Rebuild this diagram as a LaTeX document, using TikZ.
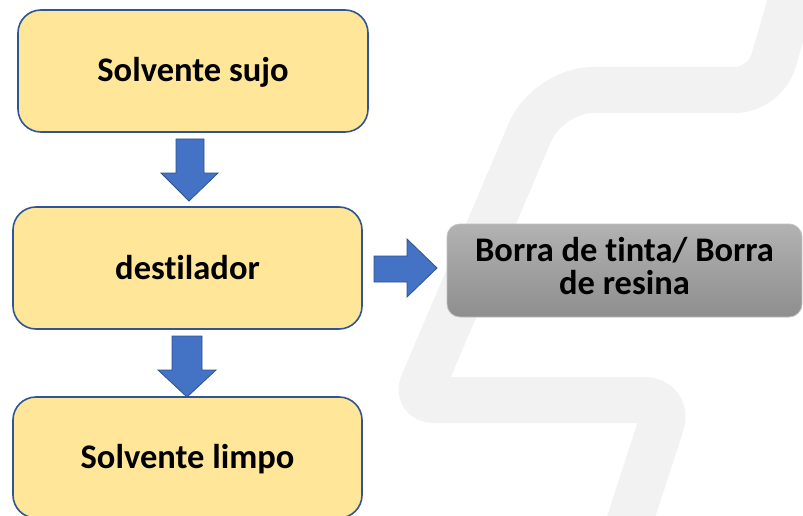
\documentclass[tikz,border=0pt]{standalone}
\usepackage{fontspec}
\setmainfont[Ligatures={NoCommon}]{Carlito}
\usetikzlibrary{positioning}
\definecolor{boxfill}{HTML}{FFE699}
\definecolor{boxline}{HTML}{2F5597}
\definecolor{arrfill}{HTML}{4472C4}
\definecolor{arrline}{HTML}{2F528F}
\definecolor{wmark}{HTML}{F2F2F2}
\definecolor{graytop}{HTML}{B2B2B2}
\definecolor{graybot}{HTML}{8E8E8E}
\definecolor{grayline}{HTML}{BFBFBF}
\tikzset{
  ybox/.style={draw=boxline, line width=1.6pt, fill=boxfill, rounded corners=23pt,
    font=\fontsize{34.5}{33}\selectfont\bfseries, text height=22pt, text depth=0pt,
    inner sep=0pt, align=center},
  gbox/.style={draw=grayline, line width=0.8pt, top color=graytop, bottom color=graybot,
    rounded corners=13pt, font=\fontsize{34.5}{33}\selectfont\bfseries,
    text height=55pt, text depth=8pt, inner sep=0pt, align=center},
  blockarrow/.style={fill=arrfill, draw=arrline, line width=0.8pt, line join=miter},
}
\begin{document}
\begin{tikzpicture}[x=1pt,y=-1pt]
\useasboundingbox (0,0) rectangle (803,516);
\clip (0,0) rectangle (803,516);
\fill[white] (0,0) rectangle (803,516);
% watermark
\draw[wmark, line width=46pt, rounded corners=30pt]
  (800,-30) -- (765,90) [rounded corners=45pt] -- (548,90) [rounded corners=18pt] -- (416,400) [rounded corners=25pt] -- (669,400) -- (622,545);
% boxes
\node[ybox, minimum width=350pt, minimum height=122pt] (sujo) at (193,71) {Solvente sujo};
\node[ybox, minimum width=349pt, minimum height=122pt] (dest) at (187.5,268) {destilador};
\node[ybox, minimum width=349pt, minimum height=121pt] (limpo) at (187.5,457.5) {Solvente limpo};
\node[gbox, minimum width=355pt, minimum height=93pt] (borra) at (624.5,270.5) {Borra de tinta/ Borra\\de resina};
% block arrows
\draw[blockarrow] (176,139) -- (204,139) -- (204,173) -- (218,173) -- (189,201) -- (161,173) -- (176,173) -- cycle;
\draw[blockarrow] (172,336) -- (202,336) -- (202,370) -- (216,370) -- (187,397) -- (158,370) -- (172,370) -- cycle;
\draw[blockarrow] (374,256) -- (407,256) -- (407,239) -- (437,268) -- (407,297) -- (407,282) -- (374,282) -- cycle;
\end{tikzpicture}
\end{document}
